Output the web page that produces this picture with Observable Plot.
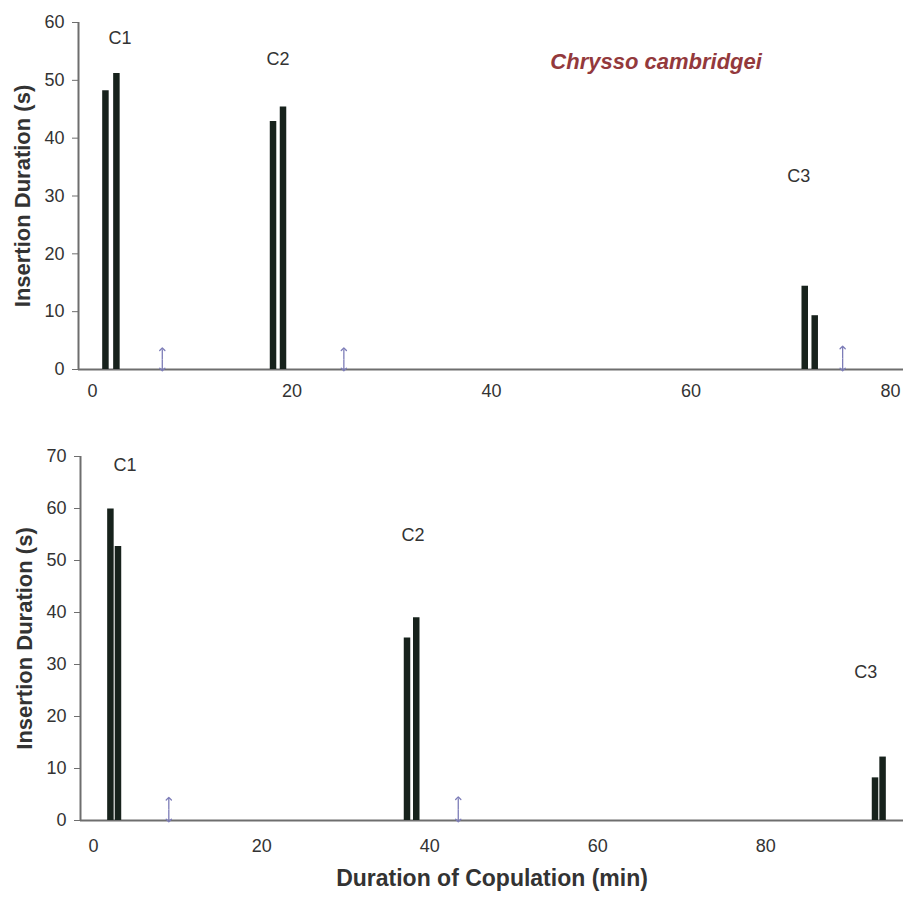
<!DOCTYPE html>
<html>
<head>
<meta charset="utf-8">
<script src="https://cdn.jsdelivr.net/npm/d3@7"></script>
<script src="https://cdn.jsdelivr.net/npm/@observablehq/plot@0.6"></script>
<style>
  html, body { margin: 0; padding: 0; background: #fff; }
  #chart { width: 903px; }
</style>
</head>
<body>
<div id="chart"></div>
<script>
// ---- Top panel (Chrysso cambridgei, pair 1) ----
const topBarX = [1.3, 2.4, 18.1, 19.1, 71.4, 72.4];
const topBarY = [48.2, 51.2, 42.9, 45.4, 14.4, 9.3];
const topArrowX = [7.0, 25.2, 75.2];
const topArrowH = [3.5, 3.5, 3.8];
const topLabels = ["C1", "C2", "C3"];
const topLabelX = [2.76, 18.6, 70.8];
const topLabelY = [57.2, 53.6, 33.4];
const topXTicks = [0, 20, 40, 60, 80];
const topYTicks = [0, 10, 20, 30, 40, 50, 60];
const speciesName = "Chrysso cambridgei";
const speciesX = 56.5, speciesY = 53.1;

// ---- Bottom panel (pair 2) ----
const botBarX = [2.0, 2.9, 37.3, 38.4, 93.0, 93.9];
const botBarY = [59.9, 52.7, 35.1, 39.0, 8.2, 12.2];
const botArrowX = [8.95, 43.4];
const botArrowH = [4.2, 4.3];
const botLabels = ["C1", "C2", "C3"];
const botLabelX = [3.74, 38.0, 91.9];
const botLabelY = [68.4, 54.8, 28.6];
const botXTicks = [0, 20, 40, 60, 80];
const botYTicks = [0, 10, 20, 30, 40, 50, 60, 70];

const yTitle = "Insertion Duration (s)";
const xTitle = "Duration of Copulation (min)";

const FONT = "'Liberation Sans', Arial, Helvetica, sans-serif";
const AXIS = "#6e6e6e";
const TEXT = "#333";
const BAR = "#17221c";
const ARROW = "#7d7db8";

function panel(cfg) {
  const bars = cfg.barX.map((x, i) => ({x, y: cfg.barY[i]}));
  const arrows = cfg.arrowX.map((x, i) => ({x, h: cfg.arrowH[i]}));
  const labels = cfg.labels.map((t, i) => ({t, x: cfg.labelX[i], y: cfg.labelY[i]}));
  const marks = [
    Plot.ruleY([0], {stroke: AXIS, strokeWidth: 2}),
    Plot.ruleX([cfg.xDomain[0]], {y1: 0, y2: cfg.yDomain[1], stroke: AXIS, strokeWidth: 2}),
    Plot.axisY({ticks: cfg.yTicks, tickSize: 6, tickPadding: 8, fontSize: 18, color: TEXT, stroke: AXIS, label: null}),
    Plot.axisX({ticks: cfg.xTicks, tickSize: 0, tickPadding: cfg.xPad, fontSize: 18, color: TEXT, label: null}),
    Plot.ruleX(bars, {x: "x", y1: 0, y2: "y", stroke: BAR, strokeWidth: 6.5}),
    // double-headed arrows: two halves from the middle
    Plot.link(arrows, {x1: "x", x2: "x", y1: d => d.h / 2, y2: "h", stroke: ARROW, strokeWidth: 1.3,
      markerEnd: "arrow"}),
    Plot.link(arrows, {x1: "x", x2: "x", y1: d => d.h / 2, y2: 0, stroke: ARROW, strokeWidth: 1.3,
      markerEnd: "arrow"}),
    Plot.text(labels, {x: "x", y: "y", text: "t", fontSize: 18, fill: TEXT}),
    Plot.text([yTitle], {frameAnchor: "left", textAnchor: "middle", dx: -56, rotate: -90, fontSize: 22,
      fontWeight: "bold", fill: TEXT})
  ];
  if (cfg.extra) marks.push(...cfg.extra);
  return Plot.plot({
    width: 903,
    height: cfg.height,
    marginLeft: cfg.marginLeft,
    marginRight: 0,
    marginTop: cfg.marginTop,
    marginBottom: cfg.marginBottom,
    style: {fontFamily: FONT, background: "#fff", overflow: "visible"},
    x: {domain: cfg.xDomain},
    y: {domain: cfg.yDomain},
    marks
  });
}

const topPanel = panel({
  barX: topBarX, barY: topBarY, arrowX: topArrowX, arrowH: topArrowH,
  labels: topLabels, labelX: topLabelX, labelY: topLabelY,
  xTicks: topXTicks, yTicks: topYTicks,
  xDomain: [-1.4, 81.3], yDomain: [0, 60],
  height: 412, marginLeft: 78, marginTop: 22, marginBottom: 43, xPad: 15,
  extra: [
    Plot.text([speciesName], {x: () => speciesX, y: () => speciesY, fontSize: 22,
      fontWeight: "bold", fontStyle: "italic", fill: "#93393c"})
  ]
});

const bottomPanel = panel({
  barX: botBarX, barY: botBarY, arrowX: botArrowX, arrowH: botArrowH,
  labels: botLabels, labelX: botLabelX, labelY: botLabelY,
  xTicks: botXTicks, yTicks: botYTicks,
  xDomain: [-1.56, 96.39], yDomain: [0, 70],
  height: 491, marginLeft: 80, marginTop: 44, marginBottom: 83, xPad: 19,
  extra: [
    Plot.text([xTitle], {frameAnchor: "bottom", dy: 65, fontSize: 23, fontWeight: "bold", fill: TEXT})
  ]
});

document.getElementById("chart").append(topPanel, bottomPanel);
</script>
</body>
</html>
